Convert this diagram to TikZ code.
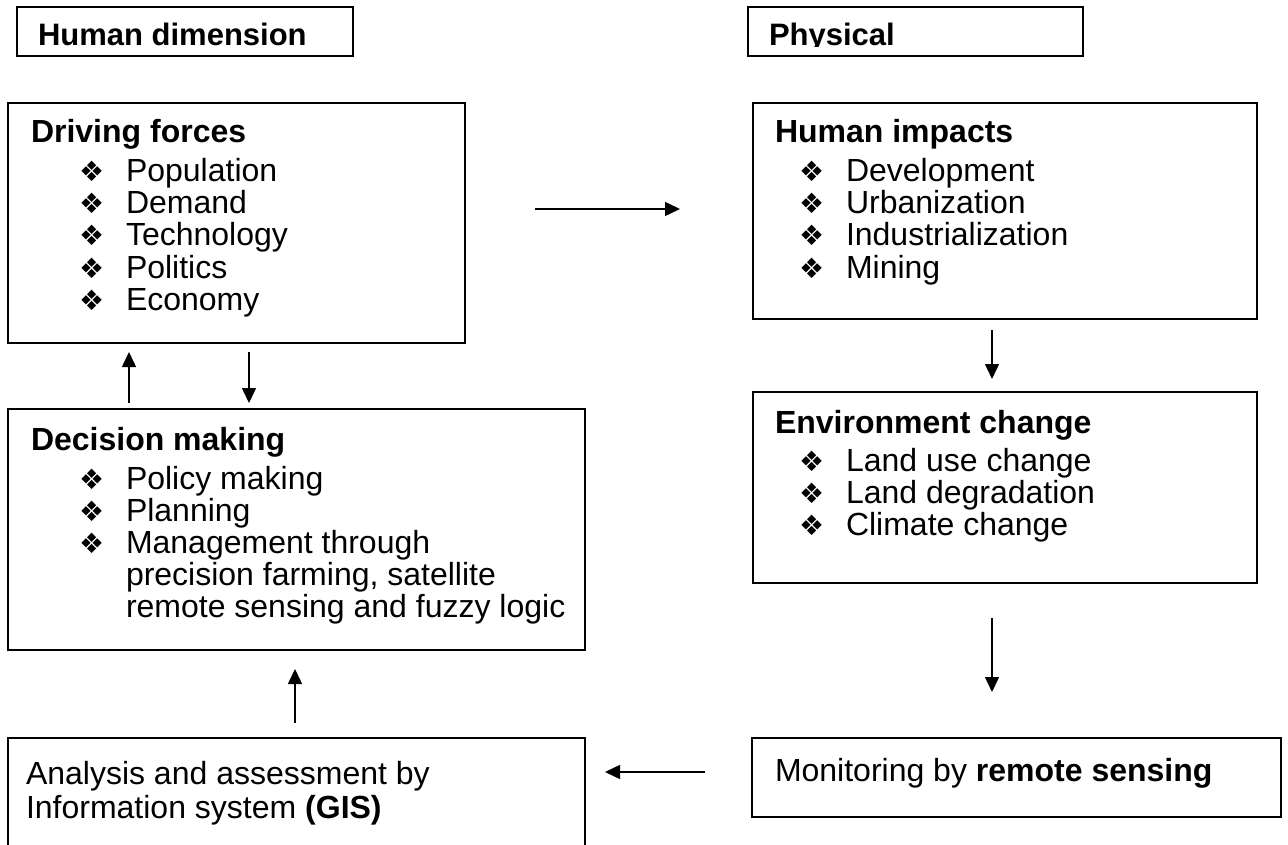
\documentclass[tikz,border=0pt]{standalone}
\usepackage{fontspec}
\setmainfont{Liberation Sans}
\newfontfamily\dvfont{DejaVu Sans}
\usetikzlibrary{arrows.meta}
\tikzset{
  box/.style={draw=black, line width=1.6pt, fill=none, inner sep=0pt, outer sep=0pt, anchor=north west},
  txt/.style={inner sep=0pt, outer sep=0pt, anchor=base west, font=\fontsize{32}{32}\selectfont},
  htxt/.style={inner sep=0pt, outer sep=0pt, anchor=base west, font=\fontsize{31}{31}\selectfont\bfseries},
  bul/.style={inner sep=0pt, outer sep=0pt, anchor=base west, font=\dvfont\fontsize{28}{28}\selectfont},
  arr/.style={line width=1.5pt, -{Triangle[length=15pt,width=14pt]}}
}
\begin{document}
\begin{tikzpicture}[x=1pt,y=-1pt]
\useasboundingbox (0,0) rectangle (1288,845);
\clip (0,0) rectangle (1288,845);
% header boxes
\node[box, minimum width=336pt, minimum height=49pt] (hdbox) at (17,7) {};
\node[box, minimum width=335pt, minimum height=49pt] (phbox) at (748,7) {};
\begin{scope}
\clip (17,7) rectangle (1084,46.5);
\node[htxt] (hdt) at (38,46) {Human dimension};
\node[htxt] (pht) at (769,46) {Physical};
\end{scope}
% main boxes
\node[box, minimum width=457pt, minimum height=240pt] (df) at (8,103) {};
\node[box, minimum width=504pt, minimum height=216pt] (hi) at (753,103) {};
\node[box, minimum width=504pt, minimum height=191pt] (ec) at (753,392) {};
\node[box, minimum width=577pt, minimum height=241pt] (dm) at (8,409) {};
\node[box, minimum width=529pt, minimum height=79pt] (mo) at (752,738) {};
\node[box, minimum width=577pt, minimum height=140pt] (an) at (8,738) {};
% Driving forces
\node[txt] (dft) at (31,143) {\textbf{Driving forces}};
\foreach \n/\y/\t in {1/182/Population,2/214/Demand,3/246/Technology,4/278/Politics,5/310/Economy}{
  \node[bul] (dfb\n) at (79,\y) {❖};
  \node[txt] (dfi\n) at (126,\y) {\t};
}
% Human impacts
\node[txt] (hit) at (775,143) {\textbf{Human impacts}};
\foreach \n/\y/\t in {1/182/Development,2/214/Urbanization,3/246/Industrialization,4/278/Mining}{
  \node[bul] (hib\n) at (799,\y) {❖};
  \node[txt] (hii\n) at (846,\y) {\t};
}
% Environment change
\node[txt] (ect) at (775,433) {\textbf{Environment change}};
\foreach \n/\y/\t in {1/471/Land use change,2/503/Land degradation,3/535/Climate change}{
  \node[bul] (ecb\n) at (799,\y) {❖};
  \node[txt] (eci\n) at (846,\y) {\t};
}
% Decision making
\node[txt] (dmt) at (31,450) {\textbf{Decision making}};
\foreach \n/\y/\t in {1/489/Policy making,2/521/Planning,3/553/Management through}{
  \node[bul] (dmb\n) at (79,\y) {❖};
  \node[txt] (dmi\n) at (126,\y) {\t};
}
\node[txt] (dmc1) at (126,585) {precision farming, satellite};
\node[txt] (dmc2) at (126,617) {remote sensing and fuzzy logic};
% Monitoring
\node[txt] (mot) at (775,781) {Monitoring by \textbf{remote sensing}};
% Analysis
\node[txt] (an1) at (26,784) {Analysis and assessment by};
\node[txt] (an2) at (26,818) {Information system \textbf{(GIS)}};
% arrow end points
\coordinate (a1s) at (535,209); \coordinate (a1e) at (680,209);
\coordinate (a2s) at (992,330); \coordinate (a2e) at (992,379);
\coordinate (a3s) at (992,618); \coordinate (a3e) at (992,692);
\coordinate (a4s) at (705,772); \coordinate (a4e) at (605,772);
\coordinate (a5s) at (295,723); \coordinate (a5e) at (295,669);
\coordinate (a6s) at (129,403); \coordinate (a6e) at (129,352);
\coordinate (a7s) at (249,352); \coordinate (a7e) at (249,403);
\draw[arr] (a1s) -- (a1e);
\draw[arr] (a2s) -- (a2e);
\draw[arr] (a3s) -- (a3e);
\draw[arr] (a4s) -- (a4e);
\draw[arr] (a5s) -- (a5e);
\draw[arr] (a6s) -- (a6e);
\draw[arr] (a7s) -- (a7e);
\end{tikzpicture}
\end{document}
